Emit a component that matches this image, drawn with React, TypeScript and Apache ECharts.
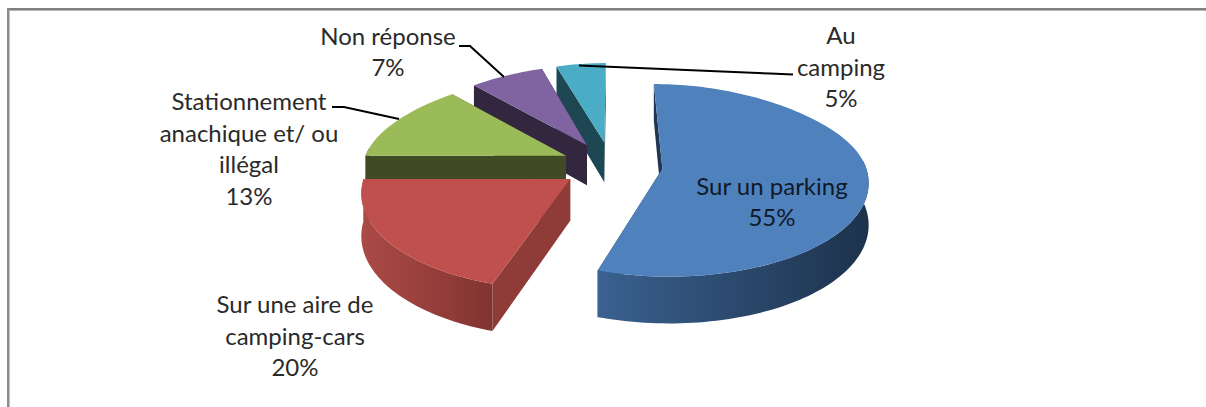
import React, { useEffect, useRef } from "react";
import * as echarts from "echarts";

// ---- data ----
const categories = ["Sur un parking", "Sur une aire de\ncamping-cars", "Stationnement\nanachique et/ ou\nillégal", "Non réponse", "Au\ncamping"];
const values = [55, 20, 13, 7, 5];

// ---- styles ----
const topColors = ["#4f81bd", "#c0504d", "#9bbb59", "#8064a2", "#4bacc6"];
const cutColors = ["#1f3550", "#8f3b38", "#404a24", "#33263f", "#1e4754"];
const arcLeft = ["#3a6190", "#ab4a47", "#404a24", "#33263f", "#1e4754"];
const arcRight = ["#1d324c", "#823430", "#404a24", "#33263f", "#1e4754"];

// label layout: centre x, centre y of the text block (parallel to categories)
const labelX = [772, 295, 249, 388, 841];
const labelY = [201, 335, 148, 51, 66];

// projection of the exploded pie
const CX = 612, CY = 165, R = 203, TILT = 0.463, PERSP = 0.12, PERSP_X_BACK = 0.09, EXPLODE = 0.25, DEPTH = 41;
const rad = (d: number) => (d * Math.PI) / 180;

const total = values.reduce((a, b) => a + b, 0);
const slices = values.map((v, i) => {
  const before = values.slice(0, i).reduce((a, b) => a + b, 0);
  return { index: i, start: (before / total) * 360, end: ((before + v) / total) * 360 };
});
// painter's order: back to front
const order = [...slices].sort(
  (a, b) => Math.cos(rad((b.start + b.end) / 2)) - Math.cos(rad((a.start + a.end) / 2))
);

function project(X: number, Z: number, drop: number): number[] {
  const s = 1 / (1 + PERSP * Z);
  const sx = Z > 0 ? 1 / (1 + PERSP * Z + PERSP_X_BACK * Z * Z) : s;
  return [CX + R * X * sx, CY - R * TILT * Z * s + drop * s];
}

function renderSlice(_params: any, api: any) {
  const idx = api.value(0);
  const start = api.value(1);
  const end = api.value(2);
  const mid = rad((start + end) / 2);
  const ox = EXPLODE * Math.sin(mid);
  const oz = EXPLODE * Math.cos(mid);
  const rim = (deg: number, drop: number) =>
    project(ox + Math.sin(rad(deg)), oz + Math.cos(rad(deg)), drop);
  const apex = (drop: number) => project(ox, oz, drop);
  const arc = (a: number, b: number, drop: number) => {
    const n = Math.max(2, Math.ceil((b - a) / 1.5));
    const pts: number[][] = [];
    for (let k = 0; k <= n; k++) pts.push(rim(a + ((b - a) * k) / n, drop));
    return pts;
  };
  const children: any[] = [];
  const poly = (points: number[][], fill: any) =>
    children.push({ type: "polygon", shape: { points }, style: { fill, stroke: null } });

  // cut walls
  poly([apex(0), rim(start, 0), rim(start, DEPTH), apex(DEPTH)], cutColors[idx]);
  poly([apex(0), rim(end, 0), rim(end, DEPTH), apex(DEPTH)], cutColors[idx]);
  // front of the rim
  const a = Math.max(start, 85);
  const b = Math.min(end, 275);
  if (a < b) {
    poly(
      [...arc(a, b, 0), ...arc(a, b, DEPTH).reverse()],
      new echarts.graphic.LinearGradient(0, 0, 1, 0, [
        { offset: 0, color: arcLeft[idx] },
        { offset: 1, color: arcRight[idx] },
      ])
    );
  }
  // top face
  poly([apex(0), ...arc(start, end, 0)], topColors[idx]);
  return { type: "group", children };
}

const labelTexts = categories.map((c, i) => `${c}\n${values[i]}%`);

export default function App() {
  const ref = useRef<HTMLDivElement>(null);
  useEffect(() => {
    const chart = echarts.init(ref.current!, undefined, { renderer: "svg" });
    chart.setOption({
      animation: false,
      backgroundColor: "#ffffff",
      series: [
        {
          type: "custom",
          coordinateSystem: "none",
          renderItem: renderSlice,
          silent: true,
          z: 1,
          data: order.map((s) => [s.index, s.start, s.end]),
        },
      ],
      graphic: {
        elements: [
          { type: "rect", z: 0, shape: { x: 7, y: 8, width: 1199, height: 2 }, style: { fill: "#808080" } },
          { type: "rect", z: 0, shape: { x: 7, y: 10, width: 1199, height: 1 }, style: { fill: "#b4b4b4" } },
          { type: "rect", z: 0, shape: { x: 7, y: 8, width: 2, height: 399 }, style: { fill: "#8c8c8c" } },
          { type: "rect", z: 0, shape: { x: 9, y: 10, width: 1, height: 397 }, style: { fill: "#c0c0c0" } },
          {
            type: "polyline", z: 5,
            shape: { points: [[579, 65.5], [770, 73.5], [793, 74.5]] },
            style: { stroke: "#000", lineWidth: 2, fill: null },
          },
          {
            type: "polyline", z: 5,
            shape: { points: [[459, 46], [470, 46], [504, 77]] },
            style: { stroke: "#000", lineWidth: 2, fill: null },
          },
          {
            type: "polyline", z: 5,
            shape: { points: [[332, 107], [344, 107], [399, 119]] },
            style: { stroke: "#000", lineWidth: 2, fill: null },
          },
          ...labelTexts.map((t, i) => ({
            type: "text",
            z: 6,
            style: {
              text: t,
              x: labelX[i],
              y: labelY[i],
              align: "center",
              verticalAlign: "middle",
              font: '24px Lato, "Open Sans", sans-serif',
              lineHeight: 31.5,
              fill: i === 0 ? "#101a28" : "#2a2a2a",
            },
          })),
        ],
      },
    });
    return () => chart.dispose();
  }, []);
  return (
    <div
      ref={ref}
      style={{ position: "fixed", left: 0, top: 0, width: 1206, height: 407, background: "#fff" }}
    />
  );
}
